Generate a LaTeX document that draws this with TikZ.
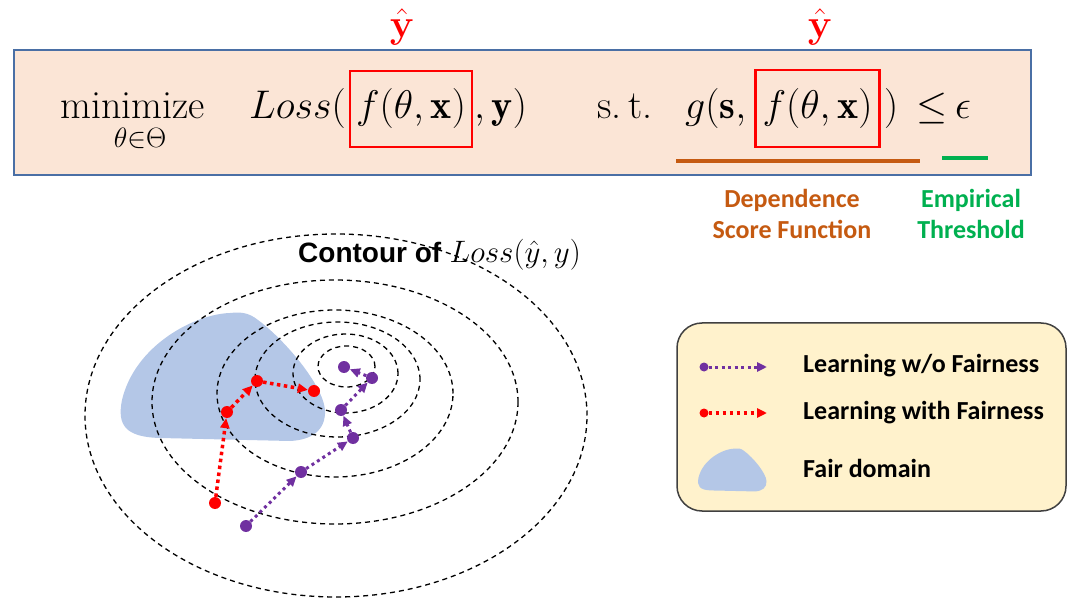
\RequirePackage{fix-cm}
\documentclass[tikz,border=0pt]{standalone}
\usepackage{amsmath,amssymb,bm}
\usepackage{fontspec}
\usepackage{tikz}
\usepackage{xcolor}
\usetikzlibrary{arrows.meta,positioning,calc}

\newfontfamily\calibrifont{Carlito}
\newfontfamily\arialfont{Liberation Sans}

\definecolor{peach}{HTML}{FBE5D6}
\definecolor{eqedge}{HTML}{4A6FA5}
\definecolor{fred}{HTML}{FF0000}
\definecolor{fbrown}{HTML}{C55A11}
\definecolor{fgreen}{HTML}{00B050}
\definecolor{fpurple}{HTML}{7030A0}
\definecolor{fairblue}{HTML}{B4C7E7}
\definecolor{legfill}{HTML}{FFF2CC}

\begin{document}
\begin{tikzpicture}[
  x=1pt, y=-1pt,
  >=Latex,
  eqn/.style={font=\fontsize{40}{48}\selectfont, inner sep=0pt, anchor=base west},
  hatlbl/.style={font=\fontsize{40}{46}\selectfont, text=fred, inner sep=0pt},
  redbox/.style={draw=fred, line width=2.5pt, inner sep=0pt,
    font=\fontsize{40}{48}\selectfont},
  note/.style={font=\calibrifont\bfseries\fontsize{26}{31}\selectfont, align=center, inner sep=0pt},
  contour/.style={draw=black, line width=1.3pt, dash pattern=on 5pt off 4pt},
  rdot/.style={circle, fill=fred, minimum size=12pt, inner sep=0pt},
  pdot/.style={circle, fill=fpurple, minimum size=12pt, inner sep=0pt},
  redflow/.style={draw=fred, line width=3.5pt, dash pattern=on 3.5pt off 3.5pt,
    -{Triangle[length=10pt,width=9pt]}},
  purpleflow/.style={draw=fpurple, line width=3pt, dash pattern=on 3pt off 3.5pt,
    -{Triangle[length=10pt,width=9pt]}},
  legtext/.style={font=\calibrifont\bfseries\fontsize{26}{31}\selectfont, anchor=west, inner sep=0pt},
  blob/.pic={
    \fill[fairblue] (8,-64) .. controls (-27,-63) and (-87,-32) .. (-100,23)
      .. controls (-105,48) and (-97,60) .. (-62,61) -- (68,64)
      .. controls (90,63) and (104,53) .. (103,33)
      .. controls (101,8) and (63,-37) .. (36,-57)
      .. controls (26,-65) and (18,-65) .. cycle;
  }
]
  \useasboundingbox (0,0) rectangle (1080,604);

  % optimisation problem
  \draw[eqedge, fill=peach, line width=1.5pt] (14,50) rectangle (1031,175);
  \node[eqn] (minw) at (60,119) {minimize};
  \node[font=\fontsize{28}{32}\selectfont, inner sep=0pt, anchor=base] (minsub) at (140,148) {$\theta{\in}\Theta$};
  \node[eqn] (loss) at (249,119) {$Loss($};
  \node[redbox, minimum width=122pt, minimum height=76pt] (fbox1) at (411,109) {$f(\theta,\mathbf{x})$};
  \node[eqn] (lossend) at (474,119) {$,\mathbf{y})$};
  \node[eqn] (st) at (597,119) {s.\,t.};
  \node[eqn] (gopen) at (685,119) {$g(\mathbf{s},$};
  \node[redbox, minimum width=124pt, minimum height=77pt] (fbox2) at (817.5,108.5) {$f(\theta,\mathbf{x})$};
  \node[eqn] (gclose) at (884,119) {$)$};
  \node[eqn] (leq) at (916,119) {$\leq$};
  \node[eqn] (eps) at (955,119) {$\epsilon$};
  \node[hatlbl] (yhat1) at (402,27) {$\bm{\hat{\mathbf{y}}}$};
  \node[hatlbl] (yhat2) at (820,27) {$\bm{\hat{\mathbf{y}}}$};

  % dependence score and threshold
  \draw[fbrown, line width=4pt] (676,161) -- (920,161);
  \draw[fgreen, line width=4pt] (942,158) -- (988,158);
  \node[note, text=fbrown] (depnote) at (792,214) {Dependence\\Score Function};
  \node[note, text=fgreen] (thrnote) at (971,214) {Empirical\\Threshold};

  % fair domain and loss contours
  \pic at (222,377) {blob};
  \draw[contour] (346.5,366.5) ellipse [x radius=28.5pt, y radius=20.5pt];
  \draw[contour] (345.5,373.5) ellipse [x radius=52.5pt, y radius=39.5pt];
  \draw[contour] (337.5,379.5) ellipse [x radius=82.5pt, y radius=57.5pt];
  \draw[contour] (335,393.5) ellipse [x radius=118pt, y radius=83.5pt];
  \draw[contour] (335,402) ellipse [x radius=183pt, y radius=122pt];
  \draw[contour] (336,415.5) ellipse [x radius=251pt, y radius=181.5pt];
  \node[font=\fontsize{28}{32}\selectfont, inner sep=0pt, anchor=base west] (contlbl) at (298,263)
    {{\arialfont\bfseries Contour of} {\fontsize{31}{34}\selectfont$Loss(\hat{y},y)$}};

  % learning with fairness
  \node[rdot] (r1) at (215,503) {};
  \node[rdot] (r2) at (227,412) {};
  \node[rdot] (r3) at (257,381) {};
  \node[rdot] (r4) at (314,391) {};
  \draw[redflow] (r1) -- (r2);
  \draw[redflow] (r2) -- (r3);
  \draw[redflow] (r3) -- (r4);

  % learning w/o fairness
  \node[pdot] (p1) at (246,526) {};
  \node[pdot] (p2) at (301,472) {};
  \node[pdot] (p3) at (353,438) {};
  \node[pdot] (p4) at (341,410) {};
  \node[pdot] (p5) at (372,378) {};
  \node[pdot] (p6) at (344,367) {};
  \draw[purpleflow] (p1) -- (p2);
  \draw[purpleflow] (p2) -- (p3);
  \draw[purpleflow] (p3) -- (p4);
  \draw[purpleflow] (p4) -- (p5);
  \draw[purpleflow] (p5) -- (p6);

  % legend
  \draw[black!75, fill=legfill, line width=1.5pt, rounded corners=25pt] (677,323) rectangle (1066,511);
  \node[pdot, minimum size=9pt] (lp) at (704,367) {};
  \coordinate (lpend) at (767,367);
  \draw[purpleflow] (lp) -- (lpend);
  \node[legtext] (lt1) at (803,366) {Learning w/o Fairness};
  \node[rdot, minimum size=9pt] (lr) at (704,413) {};
  \coordinate (lrend) at (767,413);
  \draw[redflow] (lr) -- (lrend);
  \node[legtext] (lt2) at (803,413) {Learning with Fairness};
  \pic[scale=0.335] at (732,470) {blob};
  \node[legtext] (lt3) at (803,468) {Fair domain};
\end{tikzpicture}
\end{document}
